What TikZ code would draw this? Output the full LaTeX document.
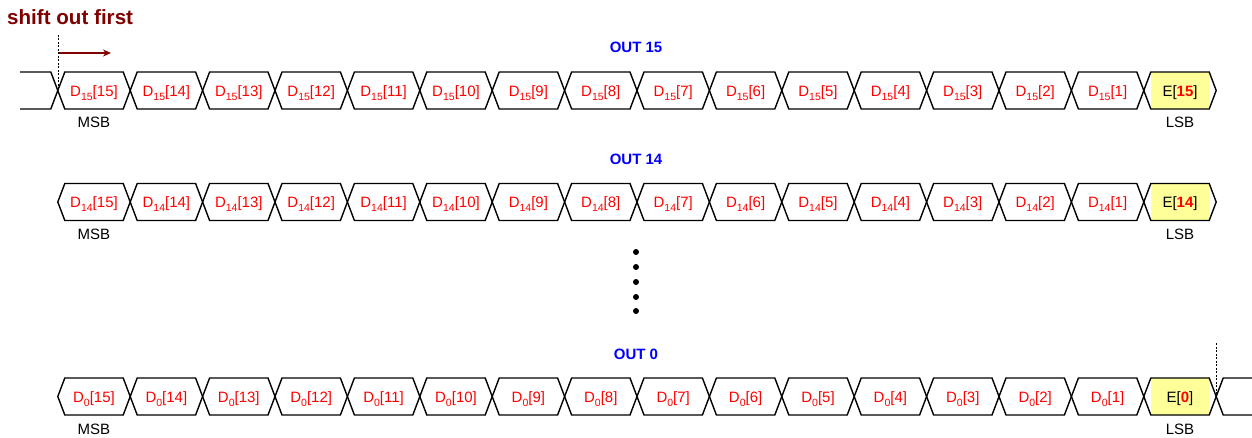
\documentclass[tikz,border=0pt]{standalone}
\usepackage{fontspec}
\setmainfont{Liberation Sans}
\usetikzlibrary{arrows.meta}
\definecolor{sigred}{HTML}{FF0000}
\definecolor{outblue}{HTML}{0000FF}
\definecolor{darkred}{HTML}{800000}
\definecolor{lsbfill}{HTML}{FFFF99}
\newcommand\dlabel[2]{D\raisebox{-0.5ex}{\fontsize{10.5}{10}\selectfont #1}[#2]}
\newcommand\elabel[1]{\textcolor{black}{E[}\textbf{#1}\textcolor{black}{]}}
\begin{document}
\begin{tikzpicture}[x=1pt,y=-1pt,
  wave/.style={draw=black,line width=1.4pt,line join=miter},
  lsbfillarea/.style={fill=lsbfill,draw=none},
  celltext/.style={text=sigred,font=\fontsize{15}{18}\selectfont,inner sep=0pt,anchor=base},
  bitname/.style={text=black,font=\fontsize{15}{17}\selectfont,inner sep=0pt,anchor=base},
  outname/.style={text=outblue,font=\bfseries\fontsize{15}{17}\selectfont,inner sep=0pt,anchor=base},
  guide/.style={draw=black,line width=0.6pt,dash pattern=on 2pt off 1.5pt},
  dotmark/.style={circle,fill=black,inner sep=0pt,minimum size=6pt}]
\useasboundingbox (0,0) rectangle (1252,438);
\def\hh{18.5}
\def\dx{7}
\def\pitch{72.4}
\def\xo{57.8}
% title and arrow
\node[text=darkred,font=\bfseries\fontsize{20.6}{24}\selectfont,inner sep=0pt,anchor=base west] (title) at (7,25) {shift out first};
\coordinate (gtop) at (\xo,35);
\coordinate (atail) at (\xo,53);
\coordinate (ahead) at (111,53);
\draw[darkred,line width=1.3pt,-{Stealth[length=8pt,width=7pt]}] (atail) -- (ahead);
% rows
\foreach \ym/\s/\nm/\outlbl in {90.5/15/a/OUT 15, 202/14/b/OUT 14, 396.5/0/c/OUT 0} {
  \foreach \i in {0,...,14} {
    \pgfmathsetmacro\xa{\xo+\pitch*\i}
    \pgfmathsetmacro\xb{\xa+\pitch}
    \pgfmathtruncatemacro\bit{15-\i}
    \draw[wave] (\xa,\ym) -- (\xa+\dx,\ym-\hh) -- (\xb-\dx,\ym-\hh) -- (\xb,\ym)
      -- (\xb-\dx,\ym+\hh) -- (\xa+\dx,\ym+\hh) -- cycle;
    \node[celltext] (\nm\i) at ({(\xa+\xb)/2},\ym+6) {\dlabel{\s}{\bit}};
  }
  \pgfmathsetmacro\xa{\xo+\pitch*15}
  \pgfmathsetmacro\xb{\xa+\pitch}
  \fill[lsbfillarea] (\xa+\dx,\ym-\hh) rectangle (\xb-\dx,\ym+\hh);
  \draw[wave] (\xa,\ym) -- (\xa+\dx,\ym-\hh) -- (\xb-\dx,\ym-\hh) -- (\xb,\ym)
      -- (\xb-\dx,\ym+\hh) -- (\xa+\dx,\ym+\hh) -- cycle;
  \node[celltext] (\nm15) at ({(\xa+\xb)/2},\ym+6) {\elabel{\s}};
  \node[bitname] (\nm msb) at ({\xo+\pitch/2},\ym+37.5) {MSB};
  \node[bitname] (\nm lsb) at ({(\xa+\xb)/2},\ym+37.5) {LSB};
  \node[outname] (\nm out) at (636,\ym-37.5) {\outlbl};
}
% row 1 preceding bit
\coordinate (p1) at (20,72);
\coordinate (p2) at (20,109);
\coordinate (x1) at (\xo,90.5);
\draw[wave] (p1) -- (\xo-\dx,72) -- (x1) -- (\xo-\dx,109) -- (p2);
\draw[guide] (gtop) -- (x1);
% row 3 following bit
\pgfmathsetmacro\xe{\xo+\pitch*16}
\coordinate (x3) at (\xe,396.5);
\coordinate (q1) at (1252,378);
\coordinate (q2) at (1252,415);
\draw[wave] (q1) -- (\xe+\dx,378) -- (x3) -- (\xe+\dx,415) -- (q2);
\coordinate (gtop3) at (\xe,343);
\draw[guide] (gtop3) -- (x3);
% dots
\foreach \k/\yy in {1/252,2/267,3/282,4/297,5/311}
  \node[dotmark] (dot\k) at (636,\yy) {};
\end{tikzpicture}
\end{document}
